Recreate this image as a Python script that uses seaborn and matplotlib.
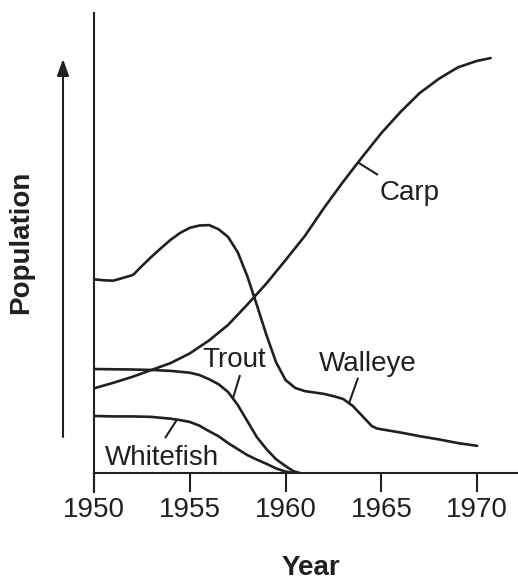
import numpy as np
import seaborn as sns
import matplotlib.pyplot as plt

# values (population in arbitrary units, 0-100)
walleye_years = [1950, 1950.5, 1951, 1951.5, 1952, 1952.1, 1952.5, 1953, 1953.5, 1954,
                 1954.5, 1955, 1955.5, 1956, 1956.5, 1957, 1957.5, 1958, 1958.5, 1959,
                 1959.5, 1960, 1960.5, 1961, 1961.5, 1962, 1962.5, 1963, 1963.5, 1964,
                 1964.5, 1964.75, 1965, 1966, 1967, 1968, 1969, 1970]
walleye_pop = [42.1, 41.9, 41.8, 42.4, 43.0, 43.3, 45.0, 47.0, 48.9, 50.7,
               52.2, 53.3, 53.8, 53.9, 53.0, 51.3, 48.0, 42.8, 36.5, 30.0,
               24.1, 20.2, 18.5, 17.8, 17.5, 17.2, 16.7, 16.1, 14.6, 12.4,
               10.2, 9.7, 9.5, 8.8, 8.0, 7.3, 6.5, 5.9]

carp_years = [1950, 1951, 1952, 1953, 1954, 1955, 1956, 1957, 1958, 1959, 1960,
              1961, 1962, 1963, 1964, 1965, 1966, 1967, 1968, 1969, 1970, 1970.7]
carp_pop = [18.4, 19.6, 20.9, 22.4, 23.9, 26.0, 28.8, 32.2, 36.6, 41.2, 46.3,
            51.5, 57.6, 63.3, 68.7, 73.9, 78.5, 82.6, 85.7, 88.2, 89.6, 90.2]

trout_years = [1950, 1952, 1953, 1954, 1955, 1955.5, 1956, 1956.5, 1957, 1957.5,
               1958, 1958.5, 1959, 1959.5, 1960, 1960.4, 1960.75]
trout_pop = [22.6, 22.5, 22.4, 22.2, 21.8, 21.3, 20.4, 19.3, 17.6, 14.8,
             11.3, 7.8, 5.2, 3.0, 1.5, 0.4, 0.0]

whitefish_years = [1950, 1951, 1952, 1953, 1954, 1954.5, 1955, 1955.5, 1956, 1956.5,
                   1957, 1957.5, 1958, 1958.5, 1959, 1959.5, 1960, 1960.4]
whitefish_pop = [12.4, 12.3, 12.3, 12.2, 11.8, 11.5, 11.1, 10.3, 9.1, 8.0,
                 6.5, 5.2, 3.9, 2.9, 2.0, 1.0, 0.3, 0.0]

year_ticks = [1950, 1955, 1960, 1965, 1970]

sns.set_style("white")
plt.rcParams['font.family'] = ['Liberation Sans', 'DejaVu Sans']
ink = '#231f20'

fig = plt.figure(figsize=(5.18, 5.80), dpi=100)
ax = fig.add_axes([94 / 518, 107 / 580, 424 / 518, 460 / 580])

for yrs, pop in [(walleye_years, walleye_pop), (carp_years, carp_pop),
                 (trout_years, trout_pop), (whitefish_years, whitefish_pop)]:
    sns.lineplot(x=yrs, y=pop, ax=ax, color=ink, lw=1.9, sort=False)

ax.set_xlim(1950, 1950 + 424 / 19.16)
ax.set_ylim(0, 100)
ax.set_xticks(year_ticks)
ax.set_yticks([])
ax.tick_params(axis='x', direction='out', length=13.5, width=1.5, color=ink,
               labelsize=20, labelcolor=ink, pad=4, bottom=True)
for s in ['top', 'right']:
    ax.spines[s].set_visible(False)
for s in ['left', 'bottom']:
    ax.spines[s].set_color(ink)
    ax.spines[s].set_linewidth(1.5)
ax.spines['left'].set_bounds(-19 / 4.6, 100)
ax.set_xlabel('')
ax.set_ylabel('')


def leader(years, pops, x0, x1, y1):
    y0 = np.interp(x0, years, pops)
    ax.plot([x0, x1], [y0, y1], color=ink, lw=1.5, solid_capstyle='butt')


leader(carp_years, carp_pop, 1963.78, 1964.82, 64.8)
leader(trout_years, trout_pop, 1957.25, 1957.62, 21.3)
leader(walleye_years, walleye_pop, 1963.31, 1963.78, 20.7)
leader(whitefish_years, whitefish_pop, 1954.33, 1953.71, 7.6)

lab = dict(fontsize=20, color=ink, va='baseline', ha='left')
ax.text(1964.9, 59.3, 'Carp', **lab)
ax.text(1955.65, 23.0, 'Trout', **lab)
ax.text(1961.75, 22.2, 'Walleye', **lab)
ax.text(1950.55, 1.7, 'Whitefish', **lab)

fig.text(21 / 518, 1 - 242 / 580, 'Population', rotation=90, fontsize=20,
         fontweight='bold', color=ink, ha='center', va='center')
fig.text(311 / 518, 1 - 568 / 580, 'Year', fontsize=20, fontweight='bold',
         color=ink, ha='center', va='center')

ax.annotate('', xy=(63 / 518, 1 - 59 / 580), xytext=(63 / 518, 1 - 437 / 580),
            xycoords='figure fraction', textcoords='figure fraction',
            arrowprops=dict(arrowstyle='-|>,head_length=0.5,head_width=0.18',
                            mutation_scale=20, lw=1.5, color=ink,
                            shrinkA=0, shrinkB=0))

fig.savefig('out.png', dpi=100)
